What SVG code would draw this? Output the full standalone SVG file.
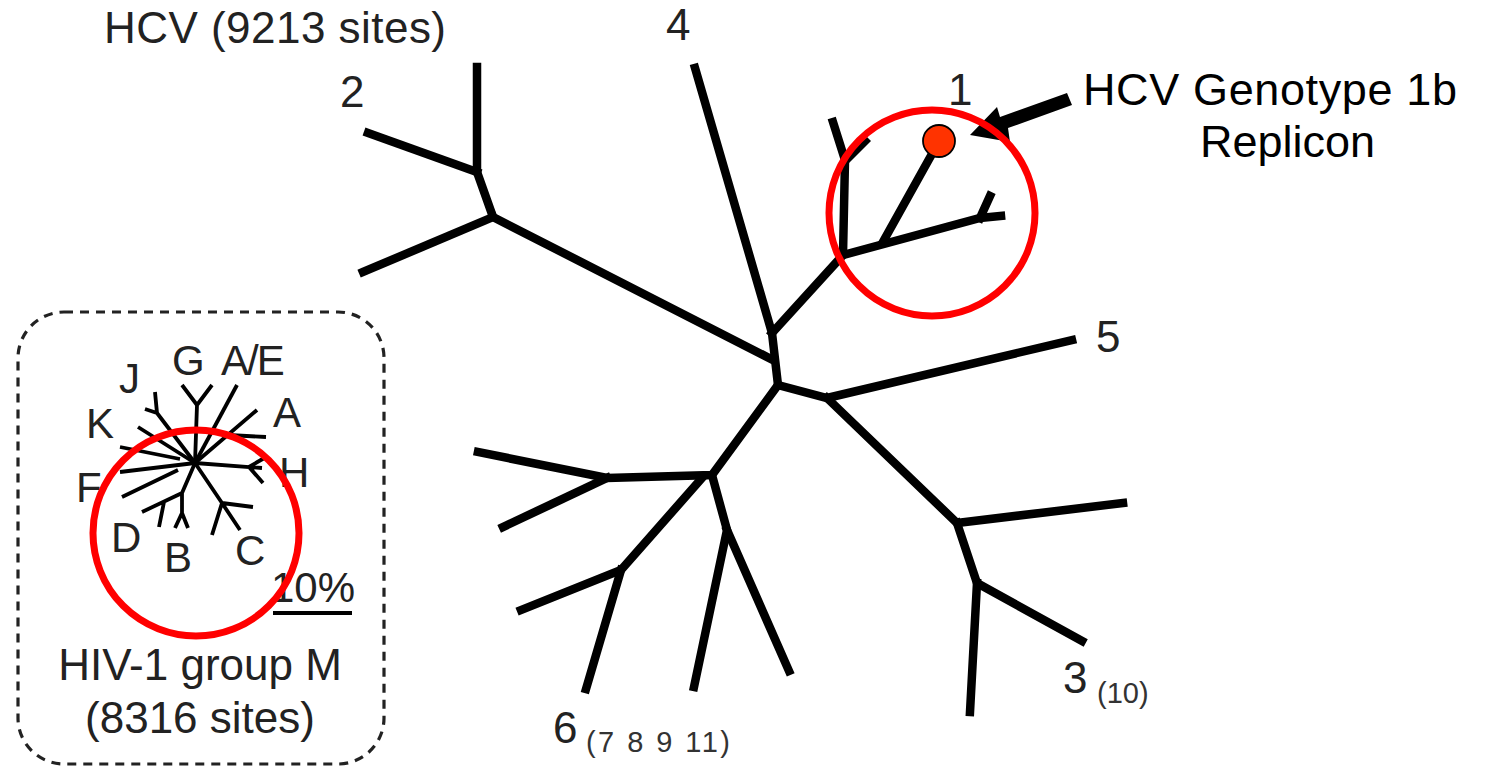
<svg xmlns="http://www.w3.org/2000/svg" width="1492" height="770" viewBox="0 0 1492 770">
  <style>
    .branch { stroke: #000; stroke-width: 8.5; stroke-linecap: square; stroke-linejoin: miter; fill: none; }
    .twig { stroke: #000; stroke-width: 3.8; stroke-linecap: butt; fill: none; }
    .ring { stroke: #ff0000; stroke-width: 7; fill: none; }
    .lbl { font-family: "Liberation Sans", Arial, sans-serif; font-size: 44px; fill: #222; }
    .sub { font-family: "Liberation Sans", Arial, sans-serif; font-size: 29px; fill: #333; }
    .ilbl { font-family: "Liberation Sans", Arial, sans-serif; font-size: 42px; fill: #222; }
    .note { font-family: "Liberation Sans", Arial, sans-serif; font-size: 45px; fill: #000; }
  </style>
  <rect width="1492" height="770" fill="#fff"/>

  <g id="connectors">
    <!-- HCV unrooted tree -->
    <g id="hcv-tree">
      <!-- genotype 2 -->
      <path class="branch" d="M477,67 L477,172 L493,217 L773,360"/>
      <path class="branch" d="M368,133 L477,172"/>
      <path class="branch" d="M363,272 L493,217"/>
      <!-- genotype 4 and central stem -->
      <path class="branch" d="M695,68 L772,333 L778,385"/>
      <!-- genotype 1 clade -->
      <path class="branch" d="M772,333 L843,255 L845,160 L833,122"/>
      <path class="branch" d="M846,160 L865,141"/>
      <path class="branch" d="M843,255 L980,218 L1001,216"/>
      <path class="branch" d="M980,218 L990,196"/>
      <path class="branch" d="M884,240 L937,145"/>
      <!-- genotypes 5 and 3 -->
      <path class="branch" d="M778,385 L827,398 L1072,340"/>
      <path class="branch" d="M827,398 L957,523 L1123,503"/>
      <path class="branch" d="M957,523 L977,583 L1082,641"/>
      <path class="branch" d="M977,583 L970,712"/>
      <!-- genotype 6 clade -->
      <path class="branch" d="M778,385 L712,475 L607,478 L478,452"/>
      <path class="branch" d="M607,478 L503,527"/>
      <path class="branch" d="M702,478 L621,570 L521,610"/>
      <path class="branch" d="M621,570 L586,689"/>
      <path class="branch" d="M712,475 L727,530 L694,687"/>
      <path class="branch" d="M727,530 L789,671"/>
    </g>

    <!-- HIV-1 group M star -->
    <g id="hiv-tree">
      <path class="twig" d="M195,463 L197,405 M197,405 L182,385 M197,405 L212,385"/>
      <path class="twig" d="M195,463 L237,385"/>
      <path class="twig" d="M195,463 L257,410 M228,435 L266,437"/>
      <path class="twig" d="M195,463 L262,468 M249,467 L266,457 M249,467 L263,483"/>
      <path class="twig" d="M195,463 L222,503 M222,503 L253,507 M222,503 L240,530 M222,503 L212,535"/>
      <path class="twig" d="M195,463 L182,493 L142,512 M164,502 L159,527 M182,493 L182,513 M182,513 L175,528 M182,513 L188,528"/>
      <path class="twig" d="M195,463 L120,472 M178,470 L122,497"/>
      <path class="twig" d="M195,463 L138,427 M180,459 L120,447"/>
      <path class="twig" d="M195,463 L157,413 M157,413 L155,392 M157,413 L145,409"/>
      <!-- 10% scale bar -->
      <line x1="273" y1="613" x2="352" y2="613" stroke="#000" stroke-width="4"/>
    </g>

    <!-- pointer to the replicon -->
    <polygon id="pointer" points="970,135 997,107 1000,117 1067,93 1072,105 1008,128 1010,142" fill="#000"/>
  </g>

  <!-- inset frame -->
  <g id="hiv-inset">
    <rect x="18" y="312" width="366" height="452" rx="46" ry="46" fill="none" stroke="#222" stroke-width="3.2" stroke-dasharray="9 7"/>
    <text class="ilbl" x="172" y="375">G</text>
    <text class="ilbl" x="221" y="375" letter-spacing="-2">A/E</text>
    <text class="ilbl" x="119" y="393">J</text>
    <text class="ilbl" x="86" y="438">K</text>
    <text class="ilbl" x="273" y="427">A</text>
    <text class="ilbl" x="279" y="487">H</text>
    <text class="ilbl" x="76" y="502">F</text>
    <text class="ilbl" x="111" y="552">D</text>
    <text class="ilbl" x="164" y="572">B</text>
    <text class="ilbl" x="235" y="565">C</text>
    <text class="ilbl" x="271" y="602">10%</text>
    <text class="lbl" x="200" y="680" text-anchor="middle">HIV-1 group M</text>
    <text class="lbl" x="200" y="733" text-anchor="middle">(8316 sites)</text>
    <circle class="ring" cx="196" cy="533" r="103"/>
  </g>

  <!-- genotype labels -->
  <g id="labels">
    <text class="lbl" x="104" y="43" textLength="342">HCV (9213 sites)</text>
    <text class="lbl" x="340" y="107">2</text>
    <text class="lbl" x="666" y="40">4</text>
    <text class="lbl" x="948" y="105">1</text>
    <text class="lbl" x="1096" y="352">5</text>
    <text class="lbl" x="1063" y="693">3</text>
    <text class="sub" x="1097" y="703">(10)</text>
    <text class="lbl" x="553" y="743">6</text>
    <text class="sub" x="586" y="752" textLength="144">(7 8 9 11)</text>
  </g>

  <!-- genotype 1b replicon -->
  <g id="replicon">
    <circle class="ring" cx="932" cy="213" r="103"/>
    <circle cx="939" cy="141" r="16" fill="#ff3300" stroke="#000" stroke-width="1.8"/>
    <text class="note" x="1083" y="105" textLength="374">HCV Genotype 1b</text>
    <text class="note" x="1200" y="157">Replicon</text>
  </g>
</svg>
